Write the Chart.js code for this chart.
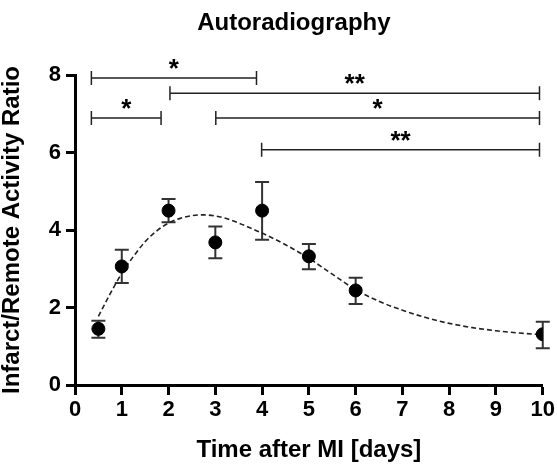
<!DOCTYPE html>
<html>
<head>
<meta charset="utf-8">
<script src="https://cdn.jsdelivr.net/npm/chart.js@4"></script>
<style>
  html, body { margin: 0; padding: 0; background: #fff; }
  #wrap { width: 557px; height: 470px; }
</style>
</head>
<body>
<div id="wrap"><canvas id="diagram"></canvas></div>
<script>
// mätpunkter (medel och felstaplar)
const days = [0.5, 1, 2, 3, 4, 5, 6, 10];
const ratio = [1.45, 3.06, 4.5, 3.68, 4.5, 3.32, 2.44, 1.31];
const errHigh = [1.66, 3.49, 4.8, 4.09, 5.24, 3.64, 2.77, 1.63];
const errLow = [1.22, 2.63, 4.2, 3.27, 3.75, 2.99, 2.09, 0.95];

// anpassad kurva (avläst)
const fitX = [0.5, 0.75, 1, 1.25, 1.5, 1.75, 2, 2.25, 2.5, 2.75, 3, 3.25, 3.5, 3.75, 4, 4.5, 5, 5.5, 6, 6.5, 7, 7.5, 8, 8.5, 9, 9.5, 10];
const fitY = [1.77, 2.35, 2.88, 3.32, 3.7, 3.98, 4.18, 4.3, 4.37, 4.39, 4.36, 4.29, 4.18, 4.05, 3.92, 3.62, 3.27, 2.86, 2.46, 2.16, 1.93, 1.74, 1.59, 1.48, 1.4, 1.34, 1.3];

// signifikansklamrar
const bracketStart = [0.35, 2.03, 0.35, 3.01, 3.99];
const bracketEnd = [3.88, 9.93, 1.84, 9.93, 9.93];
const bracketLevel = [7.92, 7.53, 6.89, 6.89, 6.07];
const bracketLabel = ["*", "**", "*", "*", "**"];

const chartTitle = "Autoradiography";
const xTitle = "Time after MI [days]";
const yTitle = "Infarct/Remote Activity Ratio";

const FONT = "'Liberation Sans', Arial, Helvetica, sans-serif";

// felstaplar
const errorBars = {
  id: "errorBars",
  beforeDatasetsDraw(chart) {
    const { ctx, scales: { x, y } } = chart;
    ctx.save();
    ctx.strokeStyle = "#333";
    ctx.lineWidth = 2;
    for (let i = 0; i < days.length; i++) {
      const px = x.getPixelForValue(days[i]);
      const top = y.getPixelForValue(errHigh[i]);
      const bot = y.getPixelForValue(errLow[i]);
      ctx.beginPath();
      ctx.moveTo(px, top);
      ctx.lineTo(px, bot);
      ctx.moveTo(px - 7, top);
      ctx.lineTo(px + 7, top);
      ctx.moveTo(px - 7, bot);
      ctx.lineTo(px + 7, bot);
      ctx.stroke();
    }
    ctx.restore();
  },
};

// klamrar, stjärnor och rubrik
const annotations = {
  id: "annotations",
  afterDraw(chart) {
    const { ctx, chartArea, scales: { x, y } } = chart;
    ctx.save();
    ctx.strokeStyle = "#222";
    ctx.lineWidth = 1.5;
    ctx.fillStyle = "#000";
    ctx.textAlign = "center";
    ctx.textBaseline = "alphabetic";
    for (let i = 0; i < bracketStart.length; i++) {
      const x1 = x.getPixelForValue(bracketStart[i]);
      const x2 = x.getPixelForValue(bracketEnd[i]);
      const py = y.getPixelForValue(bracketLevel[i]);
      ctx.beginPath();
      ctx.moveTo(x1, py);
      ctx.lineTo(x2, py);
      ctx.moveTo(x1, py - 7);
      ctx.lineTo(x1, py + 7);
      ctx.moveTo(x2, py - 7);
      ctx.lineTo(x2, py + 7);
      ctx.stroke();
      ctx.font = "bold 26px " + FONT;
      ctx.fillText(bracketLabel[i], (x1 + x2) / 2, py - 1);
    }
    // rubriken ligger lite till vänster om diagrammets mitt
    ctx.font = "bold 24px " + FONT;
    ctx.fillText(chartTitle, (chartArea.left + chartArea.right) / 2 - 15, 30);
    ctx.restore();
  },
};

const data = {
  datasets: [
    {
      type: "scatter",
      data: days.map((d, i) => ({ x: d, y: ratio[i] })),
      backgroundColor: "#000",
      borderColor: "#000",
      pointRadius: 6.5,
      pointHoverRadius: 6.5,
      order: 1,
    },
    {
      type: "line",
      data: fitX.map((d, i) => ({ x: d, y: fitY[i] })),
      borderColor: "#222",
      borderWidth: 1.6,
      borderDash: [5, 3],
      pointRadius: 0,
      fill: false,
      cubicInterpolationMode: "monotone",
      order: 2,
    },
  ],
};

const config = {
  type: "scatter",
  data: data,
  plugins: [errorBars, annotations],
  options: {
    responsive: true,
    maintainAspectRatio: false,
    animation: false,
    layout: { padding: { top: 75, right: 13, left: 0, bottom: 0 } },
    plugins: {
      legend: { display: false },
      tooltip: { enabled: false },
      title: { display: false },
    },
    scales: {
      x: {
        type: "linear",
        min: 0,
        max: 10,
        afterFit(scale) { scale.height = 85; },
        border: { display: true, color: "#000", width: 3 },
        grid: { drawOnChartArea: false, drawTicks: true, tickLength: 10, tickWidth: 3, tickColor: "#000" },
        ticks: { stepSize: 1, color: "#000", padding: 2, font: { family: FONT, size: 22, weight: "bold" } },
        title: {
          display: true,
          text: xTitle,
          color: "#000",
          padding: { top: 0, bottom: 5 },
          font: { family: FONT, size: 24, weight: "bold" },
        },
      },
      y: {
        min: 0,
        max: 8,
        afterFit(scale) { scale.width = 75; },
        border: { display: true, color: "#000", width: 3 },
        grid: { drawOnChartArea: false, drawTicks: true, tickLength: 9, tickWidth: 3, tickColor: "#000" },
        ticks: { stepSize: 2, color: "#000", padding: 5, font: { family: FONT, size: 22, weight: "bold" } },
        title: {
          display: true,
          text: yTitle,
          color: "#000",
          padding: { top: 0, bottom: 0 },
          font: { family: FONT, size: 24, weight: "bold", lineHeight: 1.0 },
        },
      },
    },
  },
};

const canvas = document.getElementById("diagram");
const chart = new Chart(canvas, config);
</script>
</body>
</html>
